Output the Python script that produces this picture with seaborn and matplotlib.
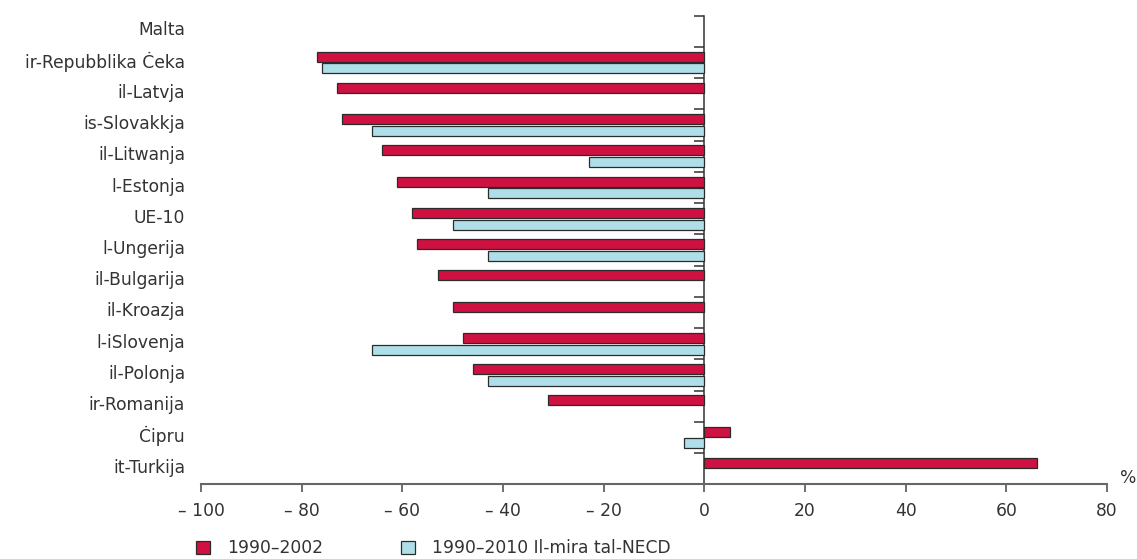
import pandas as pd
import numpy as np
import matplotlib
matplotlib.use("Agg")
import matplotlib.pyplot as plt
import matplotlib.transforms as mtransforms
from matplotlib.patches import Patch
import seaborn as sns

countries = ["Malta", "ir-Repubblika Ċeka", "il-Latvja", "is-Slovakkja", "il-Litwanja",
             "l-Estonja", "UE-10", "l-Ungerija", "il-Bulgarija", "il-Kroazja",
             "l-iSlovenja", "il-Polonja", "ir-Romanija", "Ċipru", "it-Turkija"]
change_2002 = [np.nan, -77, -73, -72, -64, -61, -58, -57, -53, -50, -48, -46, -31, 5, 66]
target_2010 = [np.nan, -76, np.nan, -66, -23, -43, -50, -43, np.nan, np.nan, -66, -43, np.nan, -4, np.nan]
series = ["1990–2002", "1990–2010 Il-mira tal-NECD"]
colors = ["#CE1141", "#AEDFE8"]
xticks = [-100, -80, -60, -40, -20, 0, 20, 40, 60, 80]

rows = []
for c, a, b in zip(countries, change_2002, target_2010):
    rows.append({"country": c, "series": series[0], "value": a})
    rows.append({"country": c, "series": series[1], "value": b})
df = pd.DataFrame(rows).dropna()

sns.set_style("ticks")
plt.rcParams["font.family"] = ["DejaVu Sans"]
fs = 12.3
plt.rcParams["font.size"] = fs
txt = "#333333"

fig = plt.figure(figsize=(11.37, 5.59), dpi=100)
ax = fig.add_axes([201 / 1137, 1 - 484.3 / 559, (1107 - 201) / 1137, (484.3 - 15.7) / 559])

sns.barplot(data=df, y="country", x="value", hue="series", order=countries,
            hue_order=series, palette=dict(zip(series, colors)), saturation=1,
            width=0.75, gap=0.15, edgecolor="#2b2b2b", linewidth=0.9,
            legend=False, ax=ax, errorbar=None)

ax.set_xlim(-100, 80)
ax.set_ylim(14.5, -0.5)
ax.set_xlabel("")
ax.set_ylabel("")
ax.set_xticks(xticks)
ax.set_xticklabels([f"– {abs(v)}" if v < 0 else str(v) for v in xticks], color=txt, fontsize=fs)
ax.tick_params(axis="x", direction="out", length=6, width=1.2, color="#555555", pad=7)
ax.tick_params(axis="y", length=0, pad=11.5, labelcolor=txt, labelsize=fs)
off = mtransforms.ScaledTranslation(0, 3 / 100, fig.dpi_scale_trans)
for lab in ax.get_yticklabels():
    lab.set_transform(lab.get_transform() + off)

for s in ["top", "right", "left"]:
    ax.spines[s].set_visible(False)
ax.spines["bottom"].set_color("#666666")
ax.spines["bottom"].set_linewidth(1.5)

# vertical axis at zero with ticks between categories
sec = ax.secondary_yaxis(100 / 180)
sec.set_yticks(np.arange(-0.5, len(countries), 1.0))
sec.set_yticklabels([])
sec.tick_params(axis="y", direction="in", length=7, width=1.1, color="#333333")
for sp in sec.spines.values():
    sp.set_color("#333333")
    sp.set_linewidth(1.1)

fig.text(1128 / 1137, 1 - 478 / 559, "%", ha="center", va="center", color=txt, fontsize=fs)

handles = [Patch(facecolor=c, edgecolor="#2b2b2b", linewidth=0.9) for c in colors]
fig.legend(handles, series, loc="center left", bbox_to_anchor=(196 / 1137, 1 - 548 / 559),
           ncol=2, frameon=False, handlelength=0.8, handleheight=0.8,
           handletextpad=1.0, columnspacing=4.6, borderpad=0, borderaxespad=0,
           labelcolor=txt, fontsize=fs)

fig.savefig("out.png", dpi=100)
